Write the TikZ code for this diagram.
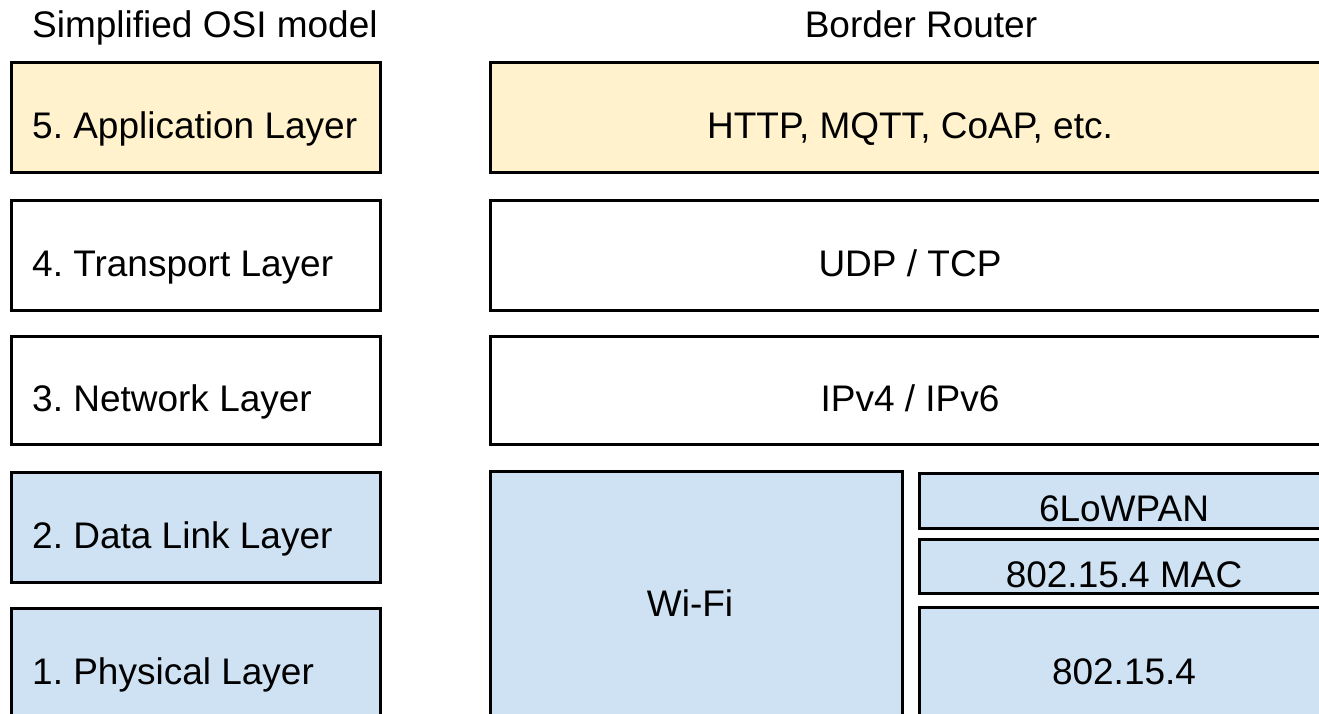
\documentclass[tikz,border=0pt]{standalone}
\usepackage{fontspec}
\setmainfont{Liberation Sans}
\frenchspacing
\definecolor{appyellow}{HTML}{FFF2CC}
\definecolor{linkblue}{HTML}{CFE2F3}
\begin{document}
\begin{tikzpicture}[x=1pt, y=-1pt,
  layerbox/.style={draw=black, line width=3pt, rectangle, inner sep=0pt, outer sep=0pt},
  lbl/.style={anchor=base, inner sep=0pt, font=\fontsize{37}{44}\selectfont},
  leftlbl/.style={lbl, anchor=base west}]
\useasboundingbox (0,0) rectangle (1319,714);
\clip (0,0) rectangle (1319,714);

% column headings
\node[leftlbl] (osititle) at (32,38) {Simplified OSI model};
\node[lbl] (brtitle) at (921,38) {Border Router};

% simplified OSI stack
\node[layerbox, fill=appyellow, minimum width=369pt, minimum height=110pt] (l5) at (195.5,118) {};
\node[layerbox, fill=white, minimum width=369pt, minimum height=109pt] (l4) at (195.5,255.5) {};
\node[layerbox, fill=white, minimum width=369pt, minimum height=108pt] (l3) at (195.5,390) {};
\node[layerbox, fill=linkblue, minimum width=369pt, minimum height=110pt] (l2) at (195.5,527) {};
\node[layerbox, fill=linkblue, minimum width=369pt, minimum height=110pt] (l1) at (195.5,663) {};

\node[leftlbl] (l5t) at ([yshift=-21pt]l5.center -| 32,0) {5. Application Layer};
\node[leftlbl] (l4t) at ([yshift=-21pt]l4.center -| 32,0) {4. Transport Layer};
\node[leftlbl] (l3t) at ([yshift=-21pt]l3.center -| 32,0) {3. Network Layer};
\node[leftlbl] (l2t) at ([yshift=-21pt]l2.center -| 32,0) {2. Data Link Layer};
\node[leftlbl] (l1t) at ([yshift=-21pt]l1.center -| 32,0) {1. Physical Layer};

% border router stack
\node[layerbox, fill=appyellow, minimum width=840pt, minimum height=110pt] (app) at (910,118) {};
\node[layerbox, fill=white, minimum width=840pt, minimum height=109pt] (tr) at (910,255.5) {};
\node[layerbox, fill=white, minimum width=840pt, minimum height=108pt] (net) at (910,390) {};
\node[layerbox, fill=linkblue, minimum width=412pt, minimum height=248pt] (wifi) at (696,595) {};
\node[layerbox, fill=linkblue, minimum width=410pt, minimum height=55pt] (lowpan) at (1124,500.5) {};
\node[layerbox, fill=linkblue, minimum width=410pt, minimum height=54pt] (mac) at (1124,566) {};
\node[layerbox, fill=linkblue, minimum width=410pt, minimum height=112pt] (phy) at (1124,663) {};

\node[lbl] (appt) at ([yshift=-21pt]app.center) {HTTP, MQTT, CoAP, etc.};
\node[lbl] (trt) at ([yshift=-21pt]tr.center) {UDP / TCP};
\node[lbl] (nett) at ([yshift=-21pt]net.center) {IPv4 / IPv6};
\node[lbl] (wifit) at ([yshift=-21pt,xshift=-6pt]wifi.center) {Wi-Fi};
\node[lbl] (lowpant) at ([yshift=-21pt]lowpan.center) {6LoWPAN};
\node[lbl] (mact) at ([yshift=-21pt]mac.center) {802.15.4 MAC};
\node[lbl] (phyt) at ([yshift=-21pt]phy.center) {802.15.4};
\end{tikzpicture}
\end{document}
